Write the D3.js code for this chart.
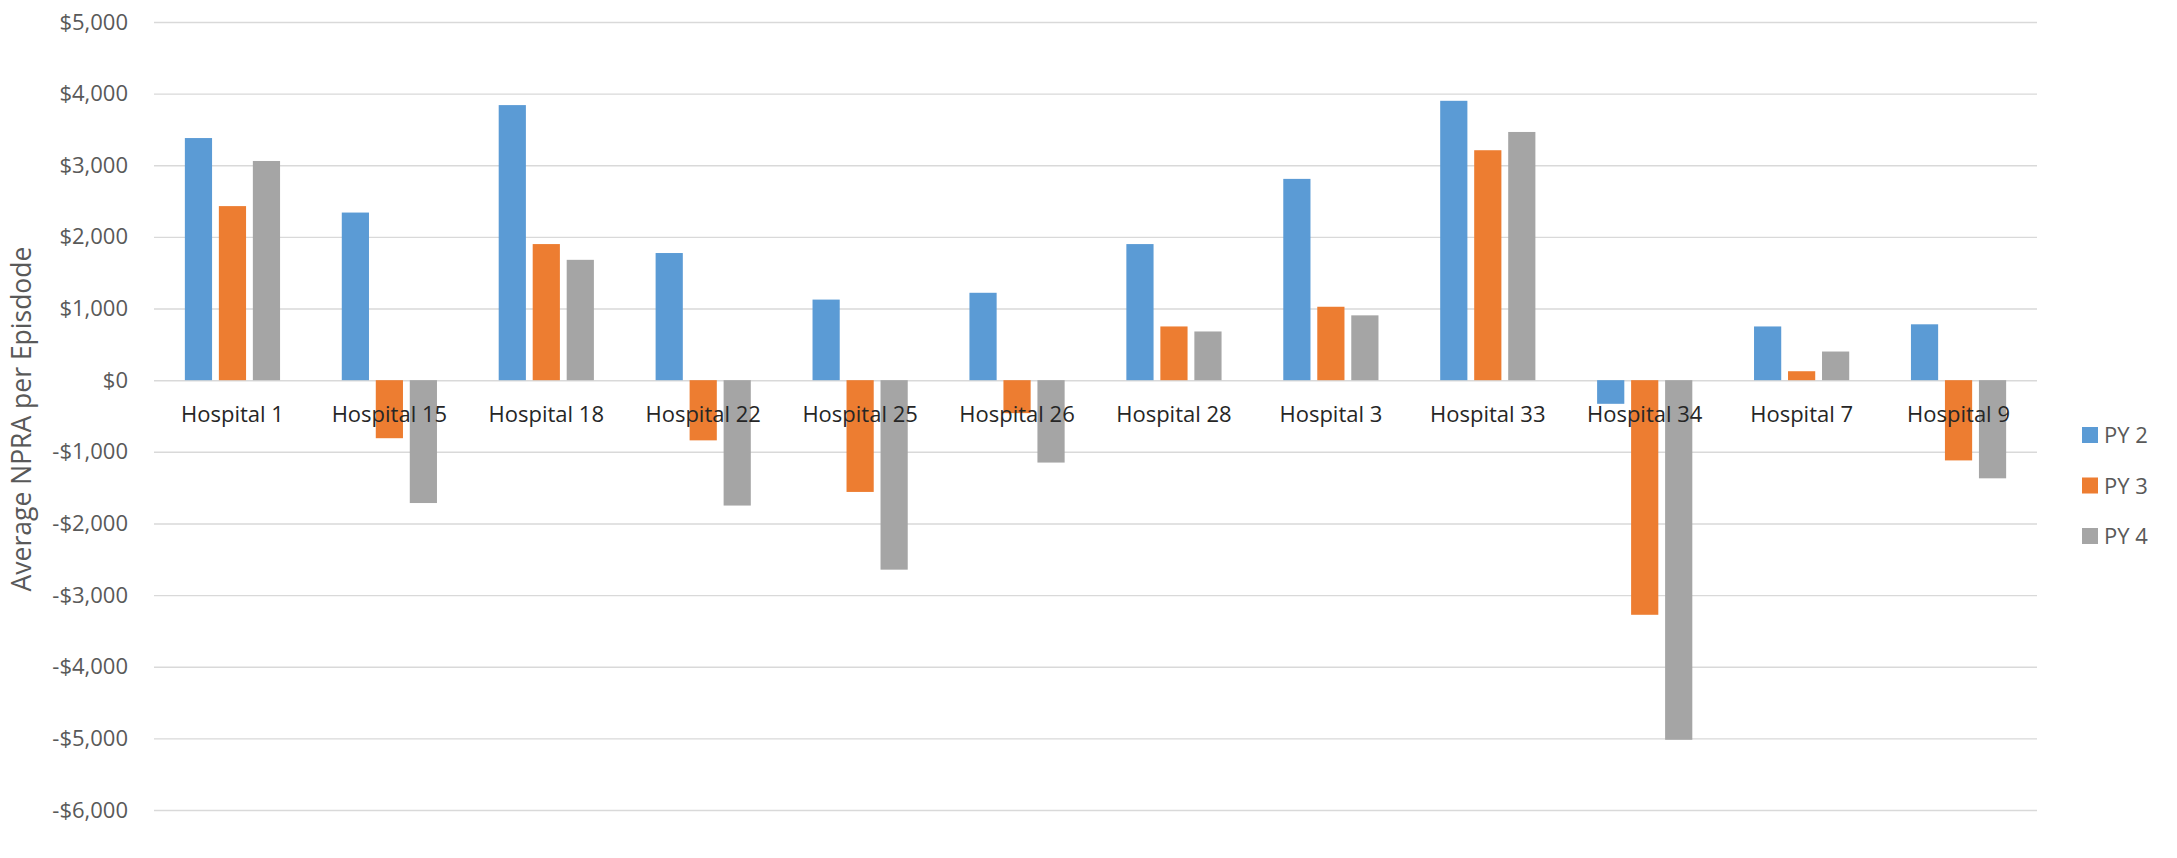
<!DOCTYPE html>
<html>
<head>
<meta charset="utf-8">
<script src="https://cdn.jsdelivr.net/npm/d3@7"></script>
<style>
  body { margin: 0; background: #fff; }
  svg { display: block; font-family: "Open Sans", sans-serif; }
</style>
</head>
<body>
<svg id="chart"></svg>
<script>
const hospitals = ['Hospital 1', 'Hospital 15', 'Hospital 18', 'Hospital 22', 'Hospital 25', 'Hospital 26',
    'Hospital 28', 'Hospital 3', 'Hospital 33', 'Hospital 34', 'Hospital 7', 'Hospital 9'];
const seriesNames = ['PY 2', 'PY 3', 'PY 4'];
const py2 = [3380, 2340, 3840, 1775, 1125, 1220, 1900, 2810, 3900, -330, 750, 780];
const py3 = [2430, -810, 1900, -840, -1560, -460, 750, 1025, 3210, -3275, 125, -1120];
const py4 = [3060, -1715, 1680, -1750, -2645, -1150, 680, 905, 3465, -5020, 400, -1370];
const yTicks = [5000, 4000, 3000, 2000, 1000, 0, -1000, -2000, -3000, -4000, -5000, -6000];

const colors = {
    'PY 2': '#5b9bd5',
    'PY 3': '#ed7d31',
    'PY 4': '#a5a5a5'
};

const width = 2177;
const height = 858;
const margin = {top: 22, right: 140, bottom: 48, left: 154};

const svg = d3.select('#chart')
    .attr('width', width)
    .attr('height', height);

const values = {'PY 2': py2, 'PY 3': py3, 'PY 4': py4};

const x0 = d3.scaleBand()
    .domain(hospitals)
    .range([margin.left, width - margin.right])
    .paddingInner(0.35)
    .paddingOuter(0.175);

const x1 = d3.scaleBand()
    .domain(seriesNames)
    .range([0, x0.bandwidth()])
    .paddingInner(0.2)
    .paddingOuter(0.1);

const y = d3.scaleLinear()
    .domain([-6000, 5000])
    .range([height - margin.bottom, margin.top]);

const money = v => (v < 0 ? '-$' : '$') + d3.format(',')(Math.abs(v));

// gridlines + y labels
const yAxis = svg.append('g')
    .attr('transform', `translate(${margin.left},0)`)
    .call(d3.axisLeft(y).tickValues(yTicks).tickFormat(money)
        .tickSize(-(width - margin.left - margin.right)).tickPadding(26));
yAxis.select('.domain').remove();
yAxis.selectAll('line').attr('stroke', '#d9d9d9').attr('stroke-width', 1.4);
yAxis.selectAll('text')
    .attr('fill', '#595959')
    .style('font-size', '22px')
    .style('font-family', '"Open Sans", sans-serif');

// bars
const group = svg.append('g').selectAll('g')
    .data(hospitals)
    .enter().append('g')
    .attr('transform', d => `translate(${x0(d)},0)`);

group.selectAll('rect')
    .data((h, i) => seriesNames.map(s => ({series: s, value: values[s][i]})))
    .enter().append('rect')
    .attr('x', d => x1(d.series))
    .attr('width', x1.bandwidth())
    .attr('y', d => y(Math.max(0, d.value)))
    .attr('height', d => Math.abs(y(d.value) - y(0)))
    .attr('fill', d => colors[d.series]);

// category labels sit on the zero line, drawn over the bars
svg.append('g').selectAll('text')
    .data(hospitals)
    .enter().append('text')
    .attr('x', d => x0(d) + x0.bandwidth() / 2)
    .attr('y', y(0) + 42)
    .attr('text-anchor', 'middle')
    .attr('fill', '#262626')
    .style('font-size', '22px')
    .text(d => d);

// y axis title
svg.append('text')
    .attr('transform', `translate(31, ${(margin.top + height - margin.bottom) / 2 + 3}) rotate(-90)`)
    .attr('text-anchor', 'middle')
    .attr('fill', '#595959')
    .style('font-size', '26.5px')
    .text('Average NPRA per Episdode');

// legend
const legend = svg.append('g')
    .attr('transform', 'translate(2082, 427)')
    .selectAll('g')
    .data(seriesNames)
    .enter().append('g')
    .attr('transform', (d, i) => `translate(0, ${i * 50.5})`);

legend.append('rect')
    .attr('width', 16)
    .attr('height', 16)
    .attr('fill', d => colors[d]);

legend.append('text')
    .attr('x', 22)
    .attr('y', 16)
    .attr('fill', '#595959')
    .style('font-size', '22px')
    .text(d => d);
</script>
</body>
</html>
